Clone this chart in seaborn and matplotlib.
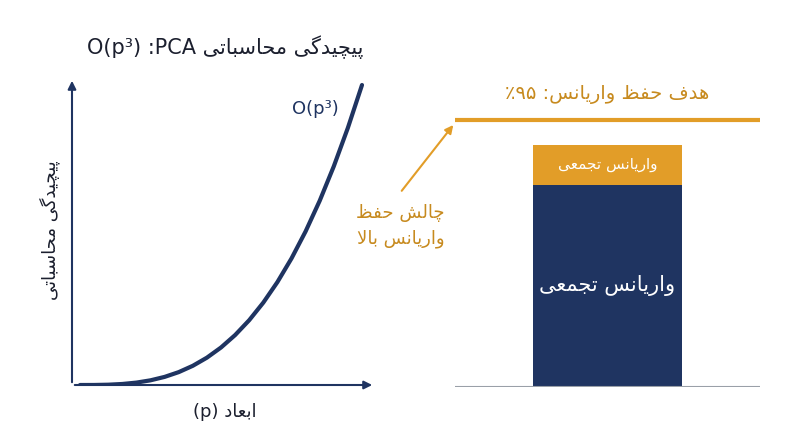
import seaborn as sns
import matplotlib.pyplot as plt

sns.set_theme(style="white")
plt.rcParams['font.family'] = ['DejaVu Sans']

# data
p_vals = [0, 0.5, 1, 1.5, 2, 2.5, 3, 3.5, 4, 4.5, 5, 5.5, 6, 6.5, 7, 7.5, 8, 8.5, 9, 9.5, 10]
complexity = [0, 0.1, 1, 3.4, 8, 15.6, 27, 42.9, 64, 91.1, 125, 166.4, 216, 274.6,
              343, 421.9, 512, 614.1, 729, 857.4, 1000]
bar_cat = ['total']
cum_var = [72]
extra_var = [14]
target = 95

NAVY = "#1f3461"
ORANGE = "#e29d28"
TXT_OR = "#c78a1e"
DARK = "#1b1f2e"

# minimal Persian shaping (matplotlib has no complex text layout)
FORMS = {
    'ا': (0xFE8D, 0xFE8E, None, None), 'د': (0xFEA9, 0xFEAA, None, None),
    'ر': (0xFEAD, 0xFEAE, None, None), 'و': (0xFEED, 0xFEEE, None, None),
    'ب': (0xFE8F, 0xFE90, 0xFE91, 0xFE92), 'پ': (0xFB56, 0xFB57, 0xFB58, 0xFB59),
    'ت': (0xFE95, 0xFE96, 0xFE97, 0xFE98), 'ج': (0xFE9D, 0xFE9E, 0xFE9F, 0xFEA0),
    'چ': (0xFB7A, 0xFB7B, 0xFB7C, 0xFB7D), 'ح': (0xFEA1, 0xFEA2, 0xFEA3, 0xFEA4),
    'س': (0xFEB1, 0xFEB2, 0xFEB3, 0xFEB4), 'ش': (0xFEB5, 0xFEB6, 0xFEB7, 0xFEB8),
    'ظ': (0xFEC5, 0xFEC6, 0xFEC7, 0xFEC8), 'ع': (0xFEC9, 0xFECA, 0xFECB, 0xFECC),
    'ف': (0xFED1, 0xFED2, 0xFED3, 0xFED4), 'گ': (0xFB92, 0xFB93, 0xFB94, 0xFB95),
    'ل': (0xFEDD, 0xFEDE, 0xFEDF, 0xFEE0), 'م': (0xFEE1, 0xFEE2, 0xFEE3, 0xFEE4),
    'ن': (0xFEE5, 0xFEE6, 0xFEE7, 0xFEE8), 'ه': (0xFEE9, 0xFEEA, 0xFEEB, 0xFEEC),
    'ی': (0xFBFC, 0xFBFD, 0xFBFE, 0xFBFF),
}


def joins_left(c):
    return c in FORMS and FORMS[c][2] is not None


def shape(s):
    out = []
    i = 0
    chars = list(s)
    while i < len(chars):
        c = chars[i]
        prev = chars[i - 1] if i > 0 else ''
        pj = joins_left(prev)
        if c == 'ل' and i + 1 < len(chars) and chars[i + 1] == 'ا':
            out.append(chr(0xFEFC if pj else 0xFEFB))
            i += 2
            continue
        if c in FORMS:
            iso, fin, ini, med = FORMS[c]
            nxt = chars[i + 1] if i + 1 < len(chars) else ''
            nj = nxt in FORMS and ini is not None
            if pj and nj:
                out.append(chr(med))
            elif pj:
                out.append(chr(fin))
            elif nj:
                out.append(chr(ini))
            else:
                out.append(chr(iso))
        else:
            out.append(c)
        i += 1
    return ''.join(out)


def fa(s):
    return shape(s)[::-1]


fig = plt.figure(figsize=(8, 4.47), dpi=100)

# left panel: complexity curve
ax1 = fig.add_axes([72 / 800, 62 / 447, 303 / 800, 307 / 447])
sns.lineplot(x=p_vals, y=complexity, ax=ax1, color=NAVY, linewidth=3)
ax1.set_xlim(-8 * 10 / 282, 10 + 13 * 10 / 282)
ax1.set_ylim(0, 1000 * 307 / 300)
ax1.set_xticks([])
ax1.set_yticks([])
for s in ax1.spines.values():
    s.set_visible(False)
ax1.annotate('', xy=(1, 0), xytext=(0, 0), xycoords='axes fraction',
             arrowprops=dict(arrowstyle='-|>', color=NAVY, lw=1.5))
ax1.annotate('', xy=(0, 1), xytext=(0, 0), xycoords='axes fraction',
             arrowprops=dict(arrowstyle='-|>', color=NAVY, lw=1.5))
ax1.text(0.88, 0.9, 'O(p³)', transform=ax1.transAxes, color=NAVY, fontsize=13,
         ha='right', va='center')

fig.text(225 / 800, 1 - 47 / 447, 'O(p³) :PCA ' + fa('پیچیدگی محاسباتی'),
         ha='center', va='center', fontsize=15, color=DARK)
fig.text(50 / 800, 1 - 230 / 447, fa('پیچیدگی محاسباتی'), rotation=90,
         ha='center', va='center', fontsize=13, color=DARK)
fig.text(225 / 800, 1 - 412 / 447, '(p) ' + fa('ابعاد'),
         ha='center', va='center', fontsize=13, color=DARK)

# right panel: variance bar
ax2 = fig.add_axes([455 / 800, 60 / 447, 305 / 800, 277 / 447])
total = [a + b for a, b in zip(cum_var, extra_var)]
sns.barplot(x=bar_cat, y=total, ax=ax2, color=ORANGE, saturation=1, width=0.8, linewidth=0)
sns.barplot(x=bar_cat, y=cum_var, ax=ax2, color=NAVY, saturation=1, width=0.8, linewidth=0)
ax2.axhline(target, color=ORANGE, lw=3)
ax2.axhline(0, color='#9aa0a8', lw=1.5)
ax2.set_xlim(-0.8 * 305 / 149 / 2, 0.8 * 305 / 149 / 2)
ax2.set_ylim(0, target * 277 / 267)
ax2.set_xticks([])
ax2.set_yticks([])
ax2.set_xlabel('')
ax2.set_ylabel('')
for s in ax2.spines.values():
    s.set_visible(False)

ax2.text(0, cum_var[0] + extra_var[0] / 2, fa('واریانس تجمعی'), ha='center',
         va='center', color='white', fontsize=11)
ax2.text(0, cum_var[0] * 0.5, fa('واریانس تجمعی'), ha='center',
         va='center', color='white', fontsize=15)
ax2.text(0, target + 9, '٪۹۵ :' + fa('هدف حفظ واریانس'), ha='center',
         va='center', color=TXT_OR, fontsize=14)

ax2.annotate('', xy=(0, target - 1), xycoords=('axes fraction', 'data'),
             xytext=(400 / 800, 1 - 193 / 447), textcoords='figure fraction',
             arrowprops=dict(arrowstyle='-|>', color=ORANGE, lw=1.5))
fig.text(445 / 800, 1 - 226 / 447, fa('چالش حفظ') + '\n' + fa('واریانس بالا'),
         ha='right', va='center', color=TXT_OR, fontsize=13, linespacing=1.6)

fig.savefig('out.png', dpi=100, facecolor='white')
